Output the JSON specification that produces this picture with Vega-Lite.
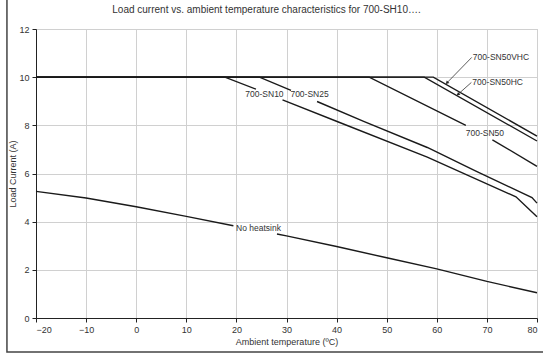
{
  "$schema": "https://vega.github.io/schema/vega-lite/v6.json",
  "width": 501,
  "height": 289,
  "autosize": {"type": "none"},
  "padding": {"left": 36, "top": 29, "right": 6, "bottom": 36},
  "background": "white",
  "config": {
    "font": "Liberation Sans",
    "view": {"stroke": "#bdbdbd", "strokeWidth": 1},
    "axis": {"labelFont": "Liberation Sans", "titleFont": "Liberation Sans", "labelColor": "#333", "titleColor": "#333", "labelFontSize": 9, "titleFontSize": 9, "titleFontWeight": "normal", "gridColor": "#d0d0d0", "gridWidth": 1, "domainColor": "#222", "tickColor": "#222", "tickSize": 4, "labelPadding": 3}
  },
  "title": {"text": "Load current vs. ambient temperature characteristics for 700-SH10….", "fontSize": 10, "fontWeight": "normal", "color": "#333", "font": "Liberation Sans", "offset": 0, "dy": 18, "dx": -20, "anchor": "middle", "frame": "group"},
  "datasets": {
    "lines": [
      {"s": "SN10a", "t": -20, "v": 10}, {"s": "SN10a", "t": 17.7, "v": 10}, {"s": "SN10a", "t": 23.9, "v": 9.5},
      {"s": "SN10b", "t": 29.2, "v": 9.06}, {"s": "SN10b", "t": 40.1, "v": 8.16}, {"s": "SN10b", "t": 58.1, "v": 6.68}, {"s": "SN10b", "t": 75.8, "v": 5.03}, {"s": "SN10b", "t": 80, "v": 4.2},
      {"s": "SN25a", "t": -20, "v": 10}, {"s": "SN25a", "t": 24.6, "v": 10}, {"s": "SN25a", "t": 30.9, "v": 9.45},
      {"s": "SN25b", "t": 36.1, "v": 8.99}, {"s": "SN25b", "t": 45.4, "v": 8.16}, {"s": "SN25b", "t": 58.1, "v": 7.08}, {"s": "SN25b", "t": 67.7, "v": 6.11}, {"s": "SN25b", "t": 79.0, "v": 5.0}, {"s": "SN25b", "t": 80, "v": 4.77},
      {"s": "SN50a", "t": -20, "v": 10}, {"s": "SN50a", "t": 46.5, "v": 10}, {"s": "SN50a", "t": 65.8, "v": 8.0},
      {"s": "SN50b", "t": 71.1, "v": 7.4}, {"s": "SN50b", "t": 80, "v": 6.3},
      {"s": "HC", "t": -20, "v": 10}, {"s": "HC", "t": 57.5, "v": 10}, {"s": "HC", "t": 80, "v": 7.35},
      {"s": "VHC", "t": -20, "v": 10}, {"s": "VHC", "t": 59.3, "v": 10}, {"s": "VHC", "t": 80, "v": 7.55},
      {"s": "NHa", "t": -20, "v": 5.26}, {"s": "NHa", "t": -10, "v": 4.98}, {"s": "NHa", "t": 0, "v": 4.62}, {"s": "NHa", "t": 10, "v": 4.22}, {"s": "NHa", "t": 19.4, "v": 3.83},
      {"s": "NHb", "t": 28.1, "v": 3.49}, {"s": "NHb", "t": 30, "v": 3.41}, {"s": "NHb", "t": 40, "v": 2.97}, {"s": "NHb", "t": 50, "v": 2.5}, {"s": "NHb", "t": 60, "v": 2.04}, {"s": "NHb", "t": 70, "v": 1.52}, {"s": "NHb", "t": 80, "v": 1.05}
    ],
    "labels": [
      {"label": "700-SN10", "t": 25.6, "v": 9.32, "a": "center"},
      {"label": "700-SN25", "t": 34.6, "v": 9.32, "a": "center"},
      {"label": "700-SN50", "t": 69.6, "v": 7.69, "a": "center"},
      {"label": "No heatsink", "t": 24.4, "v": 3.74, "a": "center"},
      {"label": "700-SN50VHC", "t": 67.2, "v": 10.84, "a": "left"},
      {"label": "700-SN50HC", "t": 67.1, "v": 9.8, "a": "left"}
    ],
    "leaders": [
      {"t": 66.97, "v": 10.82, "t2": 62.1, "v2": 9.78, "ang": 225},
      {"t": 66.9, "v": 9.78, "t2": 64.3, "v2": 9.3, "ang": 231}
    ],
    "frame": [
      {"t": -25.8, "t2": 82, "v": -1.41, "v2": 13.3}
    ]
  },
  "layer": [
    {
      "data": {"name": "frame"},
      "mark": {"type": "rect", "fill": null, "stroke": "#444", "strokeWidth": 1.5, "clip": false},
      "encoding": {
        "x": {"field": "t", "type": "quantitative", "scale": {"domain": [-20, 80], "nice": false, "zero": false},
          "axis": {"values": [-20, -10, 0, 10, 20, 30, 40, 50, 60, 70, 80], "title": "Ambient temperature (ºC)", "titlePadding": 3, "grid": true}},
        "x2": {"field": "t2"},
        "y": {"field": "v", "type": "quantitative", "scale": {"domain": [0, 12], "nice": false, "zero": false},
          "axis": {"values": [0, 2, 4, 6, 8, 10, 12], "title": "Load Current (A)", "titleX": -19, "grid": true}},
        "y2": {"field": "v2"}
      }
    },
    {
      "data": {"name": "lines"},
      "mark": {"type": "line", "color": "#1a1a1a", "strokeWidth": 1.4},
      "encoding": {
        "x": {"field": "t", "type": "quantitative"},
        "y": {"field": "v", "type": "quantitative"},
        "detail": {"field": "s"}
      }
    },
    {
      "data": {"name": "leaders"},
      "mark": {"type": "rule", "color": "#333", "strokeWidth": 0.8},
      "encoding": {
        "x": {"field": "t", "type": "quantitative"},
        "y": {"field": "v", "type": "quantitative"},
        "x2": {"field": "t2"},
        "y2": {"field": "v2"}
      }
    },
    {
      "data": {"name": "leaders"},
      "mark": {"type": "point", "shape": "triangle", "filled": true, "color": "#222", "size": 14, "opacity": 1},
      "encoding": {
        "x": {"field": "t2", "type": "quantitative"},
        "y": {"field": "v2", "type": "quantitative"},
        "angle": {"field": "ang", "type": "quantitative", "scale": null}
      }
    },
    {
      "data": {"name": "labels"},
      "transform": [{"filter": "datum.a == 'center'"}],
      "mark": {"type": "text", "fontSize": 8.5, "color": "#333", "align": "center", "baseline": "middle"},
      "encoding": {
        "x": {"field": "t", "type": "quantitative"},
        "y": {"field": "v", "type": "quantitative"},
        "text": {"field": "label"}
      }
    },
    {
      "data": {"name": "labels"},
      "transform": [{"filter": "datum.a == 'left'"}],
      "mark": {"type": "text", "fontSize": 8.5, "color": "#333", "align": "left", "baseline": "middle"},
      "encoding": {
        "x": {"field": "t", "type": "quantitative"},
        "y": {"field": "v", "type": "quantitative"},
        "text": {"field": "label"}
      }
    }
  ]
}
